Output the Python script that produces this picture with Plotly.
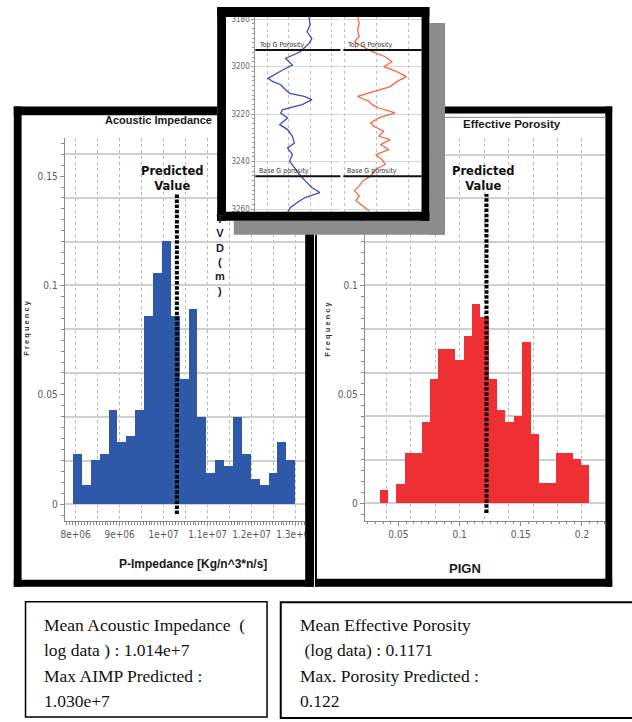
import plotly.graph_objects as go

W, H = 632, 722


def px(x):
    return x / W


def py(y):
    return 1 - y / H


# ---------------- data ----------------
aimp_bin_start = 7.93e6
aimp_bin_width = 0.202e6
aimp_freq = [0.0227, 0.0088, 0.0200, 0.0227, 0.0430, 0.0285, 0.0310, 0.0430, 0.0860,
             0.1058, 0.1200, 0.0860, 0.0573, 0.0891, 0.0400, 0.0144, 0.0200, 0.0174,
             0.0400, 0.0227, 0.0114, 0.0088, 0.0144, 0.0285, 0.0200]
aimp_predicted = 1.030e7
aimp_tick_vals = [8e6, 9e6, 1e7, 1.1e7, 1.2e7, 1.3e7]
aimp_tick_text = ["8e+06", "9e+06", "1e+07", "1.1e+07", "1.2e+07", "1.3e+07"]

por_bin_start = 0.0346
por_bin_width = 0.00685
por_freq = [0.0060, 0.0, 0.0088, 0.0229, 0.0229, 0.0370, 0.0570, 0.0708, 0.0708,
            0.0656, 0.0765, 0.0914, 0.0853, 0.0570, 0.0429, 0.0370, 0.0400, 0.0738,
            0.0317, 0.0091, 0.0091, 0.0229, 0.0229, 0.0200, 0.0174]
por_predicted = 0.122
por_tick_vals = [0.05, 0.1, 0.15, 0.2]
por_tick_text = ["0.05", "0.1", "0.15", "0.2"]

freq_tick_vals = [0, 0.05, 0.1, 0.15]
freq_tick_text = ["0", "0.05", "0.1", "0.15"]
# the 0.15 label of the porosity panel is hidden behind the inset in the original
freq_tick_vals_right = [0, 0.05, 0.1]
freq_tick_text_right = ["0", "0.05", "0.1"]

log_depth_ai = [3179.0, 3182.5, 3185.3, 3188.1, 3190.2, 3192.3, 3193.7, 3196.5, 3199.3,
                3201.4, 3203.5, 3204.9, 3206.3, 3207.6, 3209.7, 3211.2, 3212.5, 3213.9,
                3216.0, 3218.1, 3219.5, 3221.6, 3224.4, 3226.5, 3229.3, 3232.1, 3234.2,
                3237.0, 3239.8, 3242.6, 3245.3, 3248.1, 3250.9, 3253.0, 3255.1, 3257.2,
                3259.3, 3261.4]
log_ai = [10.93e6, 11.00e6, 10.79e6, 11.13e6, 10.93e6, 10.59e6, 10.32e6, 9.29e6, 9.77e6,
          9.09e6, 8.41e6, 8.07e6, 8.41e6, 8.95e6, 9.29e6, 9.57e6, 10.59e6, 11.13e6,
          10.45e6, 9.09e6, 8.95e6, 9.43e6, 8.88e6, 9.43e6, 9.77e6, 9.91e6, 9.43e6,
          9.77e6, 9.57e6, 9.91e6, 10.25e6, 10.66e6, 11.13e6, 11.68e6, 10.66e6, 10.11e6,
          9.63e6, 9.43e6]

log_depth_phi = [3179.0, 3181.8, 3184.6, 3187.4, 3189.5, 3192.3, 3193.7, 3195.8, 3197.9,
                 3200.0, 3202.1, 3204.2, 3206.3, 3208.4, 3210.5, 3212.5, 3213.5, 3214.6,
                 3216.0, 3217.4, 3219.5, 3221.6, 3223.7, 3225.1, 3227.2, 3229.3, 3230.7,
                 3232.8, 3234.9, 3237.0, 3239.1, 3241.2, 3243.2, 3246.1, 3248.1, 3250.2,
                 3252.3, 3254.4, 3256.5, 3258.6, 3260.7]
log_phi = [0.041, 0.046, 0.041, 0.046, 0.031, 0.067, 0.087, 0.128, 0.149, 0.123, 0.164,
           0.195, 0.164, 0.144, 0.092, 0.041, 0.057, 0.077, 0.087, 0.108, 0.159, 0.108,
           0.082, 0.092, 0.123, 0.108, 0.144, 0.113, 0.139, 0.098, 0.118, 0.128, 0.098,
           0.082, 0.057, 0.046, 0.031, 0.046, 0.036, 0.057, 0.077]

tops_depth = [3193.0, 3246.1]
tops_name = ["Top G Porosity", "Base G porosity"]
depth_tick_vals = [3180, 3200, 3220, 3240, 3260]

box_left_lines = ["Mean Acoustic Impedance\u00a0 (", "log data ) : 1.014e+7",
                  "Max AIMP Predicted :", "1.030e+7"]
box_right_lines = ["Mean Effective Porosity", "\u00a0(log data) : 0.1171",
                   "Max. Porosity Predicted :", "0.122"]

# ---------------- styles ----------------
SANS = "Liberation Sans, Arial, sans-serif"
NARROW = "Liberation Sans Narrow, DejaVu Sans Condensed, Arial Narrow, sans-serif"
SERIF = "Liberation Serif, Times New Roman, serif"
DEJA = "DejaVu Sans, Verdana, sans-serif"
BLUE = "#2e58a8"
RED = "#ee2f33"
TICKFONT = dict(family=NARROW, size=10, color="#5a5a5a")

fig = go.Figure()

aimp_x = [aimp_bin_start + (i + 0.5) * aimp_bin_width for i in range(len(aimp_freq))]
por_x = [por_bin_start + (i + 0.5) * por_bin_width for i in range(len(por_freq))]

fig.add_trace(go.Bar(x=aimp_x, y=aimp_freq, width=aimp_bin_width, marker_color=BLUE,
                     marker_line_width=0, xaxis="x", yaxis="y", showlegend=False))
fig.add_trace(go.Scatter(x=[aimp_predicted, aimp_predicted], y=[-0.0045, 0.142], mode="lines",
                         line=dict(color="black", width=4, dash="3.5px,1.6px"),
                         xaxis="x", yaxis="y", showlegend=False))
fig.add_trace(go.Bar(x=por_x, y=por_freq, width=por_bin_width, marker_color=RED,
                     marker_line_width=0, xaxis="x2", yaxis="y2", showlegend=False))
fig.add_trace(go.Scatter(x=[por_predicted, por_predicted], y=[-0.0045, 0.142], mode="lines",
                         line=dict(color="black", width=4, dash="3.5px,1.6px"),
                         xaxis="x2", yaxis="y2", showlegend=False))
# grid overlays & inset background subplot (empty)
for xa, ya in [("x3", "y3"), ("x4", "y4"), ("x5", "y5")]:
    fig.add_trace(go.Scatter(x=[None], y=[None], xaxis=xa, yaxis=ya, showlegend=False,
                             hoverinfo="skip"))
fig.add_trace(go.Scatter(x=log_ai, y=log_depth_ai, mode="lines",
                         line=dict(color="#3a4fb4", width=1.3), xaxis="x6", yaxis="y6",
                         showlegend=False))
fig.add_trace(go.Scatter(x=log_phi, y=log_depth_phi, mode="lines",
                         line=dict(color="#f46a3e", width=1.3), xaxis="x7", yaxis="y7",
                         showlegend=False))

L_xdom = [px(62), px(308)]
L_ydom = [py(522), py(137)]
R_xdom = [px(369), px(615)]
R_ydom = [py(521.7), py(137)]
L_xr = [7.749e6, 13.216e6]
L_yr = [-0.0077, 0.1673]
R_xr = [0.0226, 0.2191]
R_yr = [-0.0081, 0.1676]

main_common = dict(showline=True, linecolor="#8a8a8a", linewidth=1, ticks="outside",
                   ticklen=4, tickcolor="#8a8a8a", showgrid=False, zeroline=False,
                   tickfont=TICKFONT, tickmode="array")
grid_common = dict(showticklabels=False, ticks="", showline=False, zeroline=False,
                   showgrid=True, tickmode="linear")

layout = dict(
    width=W, height=H, margin=dict(l=0, r=0, t=0, b=0),
    paper_bgcolor="white", plot_bgcolor="white", bargap=0, showlegend=False,
    xaxis=dict(domain=L_xdom, range=L_xr, anchor="y", tickvals=aimp_tick_vals,
               ticktext=aimp_tick_text,
               minor=dict(tickmode="linear", tick0=8e6, dtick=1e6 / 15, ticks="outside",
                          ticklen=2.5, tickcolor="#8a8a8a", showgrid=False),
               **main_common),
    yaxis=dict(domain=L_ydom, range=L_yr, anchor="x", tickvals=freq_tick_vals,
               ticktext=freq_tick_text,
               minor=dict(tickmode="linear", tick0=0, dtick=0.005, ticks="outside",
                          ticklen=2.5, tickcolor="#8a8a8a", showgrid=False),
               **main_common),
    xaxis2=dict(domain=R_xdom, range=R_xr, anchor="y2", tickvals=por_tick_vals,
                ticktext=por_tick_text,
                minor=dict(tickmode="linear", tick0=0.05, dtick=0.05 / 8, ticks="outside",
                           ticklen=2.5, tickcolor="#8a8a8a", showgrid=False),
                **main_common),
    yaxis2=dict(domain=R_ydom, range=R_yr, anchor="x2", tickvals=freq_tick_vals_right,
                ticktext=freq_tick_text_right,
                minor=dict(tickmode="linear", tick0=0, dtick=0.005, ticks="outside",
                           ticklen=2.5, tickcolor="#8a8a8a", showgrid=False),
                **main_common),
    xaxis3=dict(overlaying="x", anchor="y3", range=L_xr, tick0=8e6, dtick=0.5e6,
                gridcolor="#b8b8b8", gridwidth=1, griddash="dot", **grid_common),
    yaxis3=dict(overlaying="y", anchor="x3", range=L_yr, tick0=0, dtick=0.02,
                gridcolor="#cfcfcf", gridwidth=1.5, **grid_common),
    xaxis4=dict(overlaying="x2", anchor="y4", range=R_xr, tick0=0, dtick=0.02,
                gridcolor="#b8b8b8", gridwidth=1, griddash="dot", **grid_common),
    yaxis4=dict(overlaying="y2", anchor="x4", range=R_yr, tick0=0, dtick=0.02,
                gridcolor="#cfcfcf", gridwidth=1.5, **grid_common),
    xaxis5=dict(domain=[px(227), px(427)], range=[0, 1], anchor="y5", visible=False),
    yaxis5=dict(domain=[py(211), py(15)], range=[0, 1], anchor="x5", visible=False),
    xaxis6=dict(domain=[px(257), px(344)], range=[7.182e6, 13.114e6], anchor="y6",
                tickmode="array", tickvals=[8e6, 9.5e6, 11e6, 12.5e6], showticklabels=False,
                ticks="", showline=False, zeroline=False, showgrid=True,
                gridcolor="#bdbdbd", griddash="dot", gridwidth=1),
    yaxis6=dict(domain=[py(211), py(15)], range=[3261.13, 3179.04], anchor="x6",
                tickmode="array", tickvals=depth_tick_vals,
                ticktext=[str(v) for v in depth_tick_vals],
                tickfont=dict(family=NARROW, size=8, color="#666"), ticks="outside",
                ticklen=3, tickcolor="#999", showline=True, linecolor="#999", linewidth=1,
                showgrid=True, gridcolor="#d6d6d6", gridwidth=1.2, zeroline=False,
                minor=dict(tickmode="linear", tick0=3180, dtick=2, ticks="outside",
                           ticklen=2, tickcolor="#999", showgrid=False)),
    xaxis7=dict(domain=[px(347), px(427)], range=[-0.004, 0.2422], anchor="y7",
                tickmode="array", tickvals=[0.0, 0.1, 0.2], showticklabels=False,
                ticks="", showline=False, zeroline=False, showgrid=True,
                gridcolor="#bdbdbd", griddash="dot", gridwidth=1),
    yaxis7=dict(domain=[py(211), py(15)], range=[3261.13, 3179.04], anchor="x7",
                tickmode="array", tickvals=depth_tick_vals, showticklabels=False,
                ticks="", showline=False, showgrid=True, gridcolor="#d6d6d6",
                gridwidth=1.2, zeroline=False),
)
fig.update_layout(**layout)

shapes = []


def rect(x0, y0, x1, y1, color="black"):
    shapes.append(dict(type="rect", xref="paper", yref="paper", x0=px(x0), x1=px(x1),
                       y0=py(y1), y1=py(y0), fillcolor=color, line=dict(width=0),
                       layer="above"))


# left panel frame
rect(10, 105, 218, 114)
rect(10, 105, 18, 588)
rect(10, 581, 317, 588)
rect(308, 220, 317, 588)
# right panel frame
rect(318, 234, 320, 588)
rect(440, 105, 622, 112)
rect(615, 105, 622, 588)
rect(318, 580, 622, 588)
shapes.append(dict(type="line", xref="paper", yref="paper", x0=px(451), x1=px(615),
                   y0=py(116), y1=py(116), line=dict(color="#8a8a8a", width=1),
                   layer="above"))
# inset shadow
rect(435, 21, 451, 234, "#8c8c8c")
rect(235, 220, 451, 234, "#8c8c8c")
# inset frame
rect(218, 5, 435, 15)
rect(218, 5, 227, 220)
rect(427, 5, 435, 220)
rect(218, 211, 435, 220)

# formation tops in the inset
for d in tops_depth:
    for xa, ya in [("x6", "y6"), ("x7", "y7")]:
        shapes.append(dict(type="line", xref=xa + " domain", yref=ya, x0=0, x1=1, y0=d,
                           y1=d, line=dict(color="#111", width=2), layer="above"))

# text boxes
shapes.append(dict(type="rect", xref="paper", yref="paper", x0=px(22), x1=px(269),
                   y0=py(719), y1=py(603), line=dict(color="black", width=1.5),
                   fillcolor="rgba(0,0,0,0)", layer="above"))
shapes.append(dict(type="rect", xref="paper", yref="paper", x0=px(283), x1=px(645),
                   y0=py(720), y1=py(603.5), line=dict(color="black", width=2),
                   fillcolor="rgba(0,0,0,0)", layer="above"))
fig.update_layout(shapes=shapes)

ann = []


def text(x, y, t, size, family=SANS, color="#1a1a1a", xanchor="center", angle=0,
         yanchor="middle"):
    ann.append(dict(x=px(x), y=py(y), xref="paper", yref="paper", text=t, showarrow=False,
                    font=dict(family=family, size=size, color=color), xanchor=xanchor,
                    yanchor=yanchor, textangle=angle))


text(157.5, 119, "<b>Acoustic Impedance</b>", 11)
text(519.5, 123, "<b>Effective Porosity</b>", 11.5)
text(193, 565, "<b>P-Impedance [Kg/n^3*n/s]</b>", 12)
text(471, 570, "<b>PIGN</b>", 13)
text(23, 328, "<b>F r e q u e n c y</b>", 7.5, angle=-90, color="#333")
text(331, 329, "<b>F r e q u e n c y</b>", 7.5, angle=-90, color="#333")
text(221, 254, "<b>T<br>V<br>D<br>(<br>m<br>)</b>", 11, color="#222")

# predicted value labels
ann.append(dict(x=aimp_predicted, xref="x", y=py(177), yref="paper", xshift=-5,
                xanchor="center", yanchor="middle",
                text="<b>Predicted<br>Value</b>", showarrow=False,
                font=dict(family=DEJA, size=11.5, color="#111")))
ann.append(dict(x=por_predicted, xref="x2", y=py(177), yref="paper", xshift=-3.5,
                xanchor="center", yanchor="middle",
                text="<b>Predicted<br>Value</b>", showarrow=False,
                font=dict(family=DEJA, size=11.5, color="#111")))

# tops labels
for d, name in zip(tops_depth, tops_name):
    for xa, ya, xx in [("x6", "y6", 0.03), ("x7", "y7", 0.03)]:
        ann.append(dict(x=xx, xref=xa + " domain", y=d, yref=ya, text=name,
                        showarrow=False, xanchor="left", yanchor="bottom",
                        font=dict(family=NARROW, size=7, color="#333"),
                        borderpad=0))

# box text
line_y = [626, 652, 678, 703]
for yy, t in zip(line_y, box_left_lines):
    text(39, yy, t, 17.5, family=SERIF, color="#111", xanchor="left")
for yy, t in zip(line_y, box_right_lines):
    text(301, yy, t, 17.5, family=SERIF, color="#111", xanchor="left")

fig.update_layout(annotations=ann)
fig.write_html("out.html")
